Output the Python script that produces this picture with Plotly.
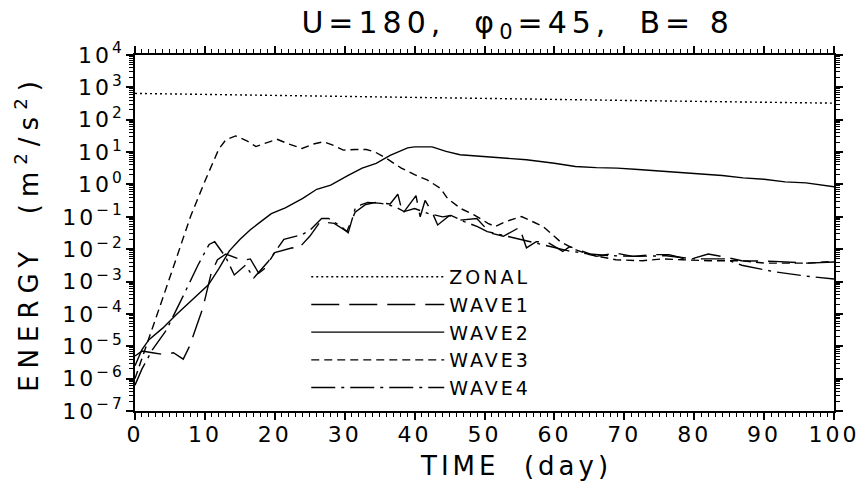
import plotly.graph_objects as go

# ---------------- data ----------------
zonal_day = [0, 10, 20, 30, 40, 50, 60, 70, 80, 90, 100]
zonal_e = [650, 610, 570, 530, 490, 455, 425, 395, 370, 345, 325]

wave1_day = [0, 1, 2.5, 4, 5.5, 6.9, 7.8, 9.7, 10.9, 11.8, 13, 15.4, 16.5, 17.7, 18.5,
             20, 22.5, 23.3, 25, 26.5, 28.5, 30.3, 31.5, 33, 34.5, 36.5, 37.6, 38.3,
             40.2, 40.8, 41.5, 42.5, 43.3, 45, 46.5, 48.9, 50.8, 52.7, 55, 56, 57.4,
             58.9, 61.2, 62.2, 64.1, 66, 68.8, 71.2, 74, 76.4, 79.2, 82, 83.9, 86.8,
             91.5, 96.2, 100]
wave1_e = [5.0e-6, 7.1e-6, 6.3e-6, 5.6e-6, 6.3e-6, 4.0e-6, 1.0e-5, 1.5e-4, 1.8e-3, 4.7e-3,
           7.1e-3, 4.5e-3, 5.0e-3, 1.8e-3, 2.5e-3, 7.9e-3, 0.011, 0.010, 0.025, 0.071,
           0.063, 0.035, 0.14, 0.24, 0.28, 0.25, 0.50, 0.126, 0.45, 0.10, 0.32, 0.14,
           0.056, 0.11, 0.079, 0.089, 0.032, 0.025, 0.047, 0.011, 0.017, 0.017, 8.5e-3,
           0.012, 8.5e-3, 6.0e-3, 7.6e-3, 6.0e-3, 6.8e-3, 6.8e-3, 4.7e-3, 7.1e-3, 6.0e-3,
           4.4e-3, 4.2e-3, 3.7e-3, 4.0e-3]

wave2_day = [0, 1, 2, 4, 6, 8, 10.5, 12, 13.5, 15, 16.5, 18, 19.5, 21.5, 24, 26, 28, 30.5,
             32.5, 34.5, 36.5, 39, 40, 42.5, 44.5, 46.5, 50, 53, 56, 60, 63, 66, 69, 72,
             75, 78, 81, 84, 87, 90, 93, 96, 100]
wave2_e = [2.5e-6, 7.9e-6, 1.6e-5, 3.7e-5, 1.0e-4, 2.5e-4, 7.9e-4, 2.5e-3, 8.9e-3, 0.020,
           0.040, 0.071, 0.126, 0.19, 0.37, 0.71, 0.95, 1.9, 3.2, 4.5, 7.9, 13.5, 14.5,
           14.5, 10.5, 8.3, 7.2, 6.3, 5.8, 4.5, 3.6, 3.3, 3.2, 2.9, 2.6, 2.4, 2.1, 1.9,
           1.6, 1.45, 1.2, 1.12, 0.85]

wave3_day = [0, 1, 2, 4, 6, 8, 10, 12, 13, 14.4, 16, 17.3, 19, 20.3, 22, 23.9, 25.5, 27,
             28.5, 29.8, 31.5, 33.1, 34.3, 36, 38.1, 40, 41.8, 43.7, 44.7, 46.6, 48.5,
             50.5, 51.5, 53, 55.3, 58.4, 60.8, 63.1, 65, 68.8, 72.6, 75.4, 78.3, 82,
             86.8, 90.1, 96.2, 100]
wave3_e = [1.0e-6, 4.0e-6, 1.8e-5, 3.2e-4, 6.3e-3, 0.11, 1.26, 12.6, 24, 31.6, 22.4, 14.8,
           20, 25, 17.8, 12.9, 17.8, 20.9, 15.8, 11.5, 12, 12, 10.2, 6.3, 3.2, 2.0, 1.38,
           0.76, 0.37, 0.18, 0.115, 0.063, 0.050, 0.071, 0.102, 0.050, 0.0174, 9.5e-3,
           6.8e-3, 4.7e-3, 4.4e-3, 5.0e-3, 4.7e-3, 4.4e-3, 4.4e-3, 3.7e-3, 3.7e-3, 4.2e-3]

wave4_day = [0, 1, 2.5, 4.5, 7, 9, 10.6, 11.4, 13, 14.2, 15.8, 17, 19, 20.1, 21.3, 23.9,
             25.1, 26.7, 27.7, 29.5, 30.5, 31.5, 32.4, 33.3, 35.2, 37.1, 38.5, 40, 42, 44,
             45.2, 47.1, 49, 50.4, 53.2, 56, 59, 62, 65, 68, 72, 76, 80, 84.4, 86.8, 91.5,
             96.2, 100]
wave4_e = [6.3e-7, 2.0e-6, 7.9e-6, 3.2e-5, 4.0e-4, 3.2e-3, 0.014, 0.017, 5.6e-3, 1.6e-3,
           3.2e-3, 1.3e-3, 4.0e-3, 8.9e-3, 0.020, 0.028, 0.040, 0.089, 0.089, 0.050,
           0.032, 0.18, 0.24, 0.28, 0.26, 0.21, 0.145, 0.18, 0.126, 0.10, 0.11, 0.071,
           0.050, 0.035, 0.025, 0.018, 0.0126, 8.9e-3, 7.1e-3, 6.3e-3, 6.0e-3, 6.3e-3,
           5.0e-3, 5.0e-3, 3.2e-3, 2.0e-3, 1.45e-3, 1.2e-3]

x_ticks = [0, 10, 20, 30, 40, 50, 60, 70, 80, 90, 100]
y_exponents = [-7, -6, -5, -4, -3, -2, -1, 0, 1, 2, 3, 4]
y_ticks = [10.0 ** e for e in y_exponents]
y_ticktext = ["10<sup>%s</sup>" % str(e).replace("-", "\u2212") for e in y_exponents]

FONT = "DejaVu Sans"

series = [
    ("ZONAL", zonal_day, zonal_e, "2px,3px"),
    ("WAVE1", wave1_day, wave1_e, "28px,10px"),
    ("WAVE2", wave2_day, wave2_e, "solid"),
    ("WAVE3", wave3_day, wave3_e, "8px,5px"),
    ("WAVE4", wave4_day, wave4_e, "24px,6px,3px,6px"),
]

fig = go.Figure()
for name, d, e, dash in series:
    fig.add_trace(go.Scatter(x=d, y=e, mode="lines", name=name,
                             line=dict(color="black", width=1.4, dash=dash)))

fig.update_layout(
    width=867, height=491,
    margin=dict(l=135, r=27, t=55, b=80),
    paper_bgcolor="white", plot_bgcolor="white",
    font=dict(family=FONT, color="black", size=22),
    title=dict(text="U=180,  \u03c6<sub>0</sub>=45,  B= 8", xref="container",
               x=0.597, xanchor="center", y=0.955, yanchor="middle",
               font=dict(size=30, family=FONT)),
    showlegend=True,
    legend=dict(x=0.245, y=0.43, xanchor="left", yanchor="top",
                bgcolor="rgba(0,0,0,0)", font=dict(size=19, family=FONT),
                itemwidth=133, tracegroupgap=0),
    annotations=[dict(text="TIME  (day)", xref="paper", yref="paper",
                      x=0.545, y=-0.155, xanchor="center", yanchor="middle",
                      showarrow=False, font=dict(size=26, family=FONT))],
)
fig.update_xaxes(
    range=[0, 100], tickvals=x_ticks, ticks="outside", ticklen=7, tickwidth=1.5,
    tickcolor="black", showline=True, linecolor="black", linewidth=1.5,
    mirror="allticks", showgrid=False, zeroline=False,
    minor=dict(ticks="outside", dtick=1, ticklen=4, tickcolor="black", tickwidth=1.2),
    tickfont=dict(size=22), ticklabelstandoff=-4,
)
fig.update_yaxes(
    type="log", range=[-7, 4], tickvals=y_ticks, ticktext=y_ticktext,
    ticks="outside", ticklen=7, tickwidth=1.5, tickcolor="black",
    showline=True, linecolor="black", linewidth=1.5, mirror="allticks",
    showgrid=False, zeroline=False,
    minor=dict(ticks="outside", dtick="D1", ticklen=4, tickcolor="black", tickwidth=1.2),
    tickfont=dict(size=22), ticklabelstandoff=-3,
    title=dict(text="ENERGY  (m<sup>2</sup>/s<sup>2</sup>)", font=dict(size=26), standoff=28),
)

post = """
var gd = document.getElementById('{plot_id}');
function ls(sel, v) { gd.querySelectorAll(sel).forEach(function (t) { t.style.letterSpacing = v; }); }
ls('.gtitle', '5px');
ls('.ytitle', '7px');
ls('.annotation-text', '4px');
ls('.legendtext', '3px');
ls('.xtick text', '3px');
ls('.ytick text', '3px');
gd.querySelectorAll('.legend .scrollbox').forEach(function (e) { e.removeAttribute('clip-path'); });
"""

fig.write_html("out.html", post_script=post)
